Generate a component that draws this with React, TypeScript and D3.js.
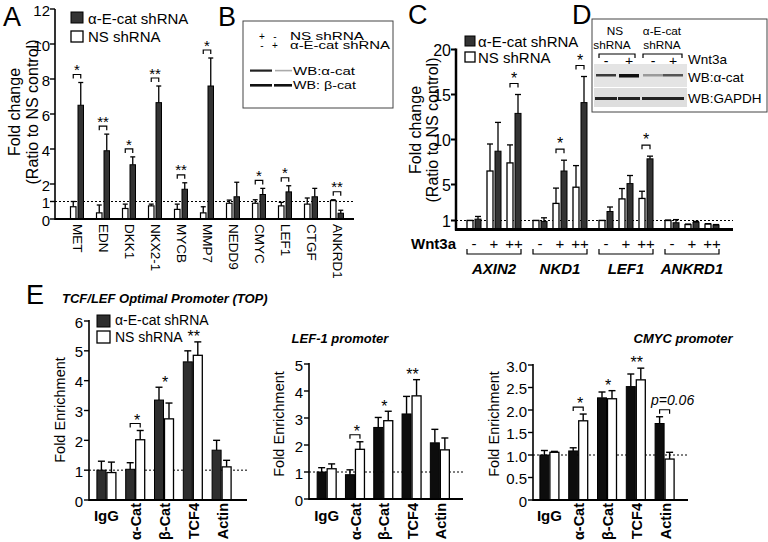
import React from "react";
import * as d3 from "d3";

const FONT = "'Liberation Sans', Arial, Helvetica, sans-serif";

// ---------- Panel A data ----------
const genesA = ["MET", "EDN", "DKK1", "NKX2-1", "MYCB", "MMP7", "NEDD9", "CMYC", "LEF1", "CTGF", "ANKRD1"];
const nsA = [0.7, 0.35, 0.6, 0.75, 0.55, 0.35, 0.9, 0.9, 0.75, 0.85, 1.05];
const nsAErr = [1.0, 0.8, 0.85, 0.85, 0.85, 0.7, 1.08, 1.1, 0.95, 1.2, 1.1];
const kdA = [6.5, 3.9, 3.1, 6.65, 1.7, 7.6, 1.27, 1.4, 1.55, 1.27, 0.33];
const kdAErr = [7.8, 4.85, 3.55, 7.6, 2.07, 9.2, 2.1, 1.75, 1.9, 1.75, 0.5];
const sigA = ["*", "**", "*", "**", "**", "*", "", "*", "*", "", "**"];
const ticksA = [0, 1, 2, 4, 6, 8, 10, 12];

// ---------- Panel C data ----------
const genesC = ["AXIN2", "NKD1", "LEF1", "ANKRD1"];
const wnt = ["-", "+", "++"];
const nsC = [[1.0, 6.5, 7.4], [1.0, 2.9, 4.7], [1.0, 3.4, 3.45], [1.0, 0.55, 0.6]];
const nsCErr = [[1.0, 9.5, 9.4], [1.0, 4.6, 7.1], [1.0, 4.55, 4.25], [1.05, 0.6, 0.65]];
const kdC = [[1.15, 8.7, 12.9], [0.9, 6.5, 14.1], [2.0, 5.1, 7.85], [0.75, 0.8, 0.5]];
const kdCErr = [[1.45, 11.9, 15.0], [1.3, 7.7, 17.0], [2.5, 6.0, 8.15], [1.1, 0.9, 0.55]];
const sigC = [["", "", "*"], ["", "*", "*"], ["", "", "*"], ["", "", ""]];
const ticksC = [1, 5, 10, 15, 20];

// ---------- Panel D data ----------
const lanesD = ["-", "+", "-", "+"];
const bandAlpha = ["#3a3a3a", "#111111", "#9a9a9a", "#555555"];
const bandGapdh = ["#222222", "#222222", "#222222", "#222222"];

// ---------- Panel E data ----------
const eCats = ["IgG", "α-Cat", "β-Cat", "TCF4", "Actin"];
const e1KD = [1.0, 1.03, 3.35, 4.63, 1.67];
const e1KDErr = [1.3, 1.25, 3.78, 5.0, 2.0];
const e1NS = [0.92, 2.02, 2.72, 4.85, 1.11];
const e1NSErr = [1.27, 2.33, 3.25, 5.3, 1.33];
const e1Ticks = [0, 1, 2, 3, 4, 5, 6];
const e1Sig = ["", "b*", "*", "**", ""];
const e2KD = [1.0, 0.9, 2.65, 3.15, 2.08];
const e2KDErr = [1.16, 1.08, 3.02, 3.8, 2.58];
const e2NS = [1.12, 1.84, 2.9, 3.82, 1.82];
const e2NSErr = [1.3, 2.12, 3.25, 4.42, 2.26];
const e2Ticks = [0, 1, 2, 3, 4, 5];
const e2Sig = ["", "b*", "*", "**", ""];
const e3KD = [1.0, 1.09, 2.27, 2.52, 1.7];
const e3KDErr = [1.1, 1.16, 2.4, 2.8, 1.85];
const e3NS = [1.06, 1.76, 2.25, 2.67, 0.91];
const e3NSErr = [1.08, 1.91, 2.43, 2.93, 1.06];
const e3Ticks = [0, 0.5, 1, 1.5, 2, 2.5, 3];
const e3Sig = ["", "b*", "*", "**", "bp=0.06"];

const KD_LABEL = "α-E-cat shRNA";
const NS_LABEL = "NS shRNA";

function Err({ x, y0, y1, cap, sw = 1.3 }: any) {
  return (
    <g stroke="#000" strokeWidth={sw}>
      <line x1={x} x2={x} y1={y0} y2={y1} />
      <line x1={x - cap / 2} x2={x + cap / 2} y1={y1} y2={y1} />
    </g>
  );
}

function Bracket({ x1, x2, y, h = 4, up = false, sw = 1.2 }: any) {
  const yy = up ? y - h : y + h;
  return <path d={`M${x1},${yy}V${y}H${x2}V${yy}`} fill="none" stroke="#000" strokeWidth={sw} />;
}

function Star({ x, yc, s, fs = 16 }: any) {
  return (
    <text x={x} y={yc + fs * 0.58} textAnchor="middle" fontSize={fs} fill="#000">
      {s}
    </text>
  );
}

function Letter({ x, y, t }: any) {
  return (
    <text x={x} y={y} fontSize={27}>
      {t}
    </text>
  );
}

function PanelA() {
  const x = d3.scaleBand<string>().domain(genesA).range([64, 350]);
  const y = d3.scaleLinear().domain([0, 12]).range([219, 9]);
  const ax = 55;
  const xEnd = 354;
  return (
    <g>
      <Letter x={3} y={26} t="A" />
      <rect x={71} y={12} width={12} height={11} fill="#333" stroke="#000" />
      <text x={88} y={18} dominantBaseline="central" fontSize={15}>{KD_LABEL}</text>
      <rect x={71} y={31} width={12} height={11} fill="#fff" stroke="#000" strokeWidth={1.3} />
      <text x={88} y={36} dominantBaseline="central" fontSize={15}>{NS_LABEL}</text>
      <text transform={`translate(14,112) rotate(-90)`} textAnchor="middle" dominantBaseline="central" fontSize={16}>Fold change</text>
      <text transform={`translate(32,112) rotate(-90)`} textAnchor="middle" dominantBaseline="central" fontSize={16}>(Ratio to NS control)</text>
      <line x1={ax} x2={xEnd} y1={y(1)} y2={y(1)} stroke="#000" strokeDasharray="2,2" strokeWidth={1} />
      {genesA.map((g, i) => {
        const c = (x(g) as number) + x.bandwidth() / 2;
        const bw = 5.5;
        const wx = c - 6.5;
        const dx = c + 1;
        const top = y(Math.max(nsAErr[i], kdAErr[i]));
        const by = top - 8;
        return (
          <g key={g}>
            <Err x={wx + bw / 2} y0={y(nsA[i])} y1={y(nsAErr[i])} cap={5} />
            <Err x={dx + bw / 2} y0={y(kdA[i])} y1={y(kdAErr[i])} cap={5} />
            <rect x={wx} y={y(nsA[i])} width={bw} height={y(0) - y(nsA[i])} fill="#fff" stroke="#000" strokeWidth={1.2} />
            <rect x={dx} y={y(kdA[i])} width={bw} height={y(0) - y(kdA[i])} fill="#333" stroke="#000" strokeWidth={1} />
            {sigA[i] && (
              <g>
                <Bracket x1={wx + bw / 2} x2={dx + bw / 2} y={by} />
                <Star x={c} yc={by - 8} s={sigA[i]} fs={15} />
              </g>
            )}
            <text transform={`translate(${c},224) rotate(90)`} dominantBaseline="central" fontSize={13.5}>{g}</text>
          </g>
        );
      })}
      <line x1={ax} x2={ax} y1={y(12)} y2={y(0) + 1} stroke="#000" strokeWidth={1.6} />
      <line x1={ax} x2={xEnd} y1={y(0)} y2={y(0)} stroke="#000" strokeWidth={2} />
      {ticksA.map((t) => (
        <g key={t}>
          <line x1={ax - 5} x2={ax} y1={y(t)} y2={y(t)} stroke="#000" strokeWidth={1.4} />
          <text x={ax - 5} y={y(t) + 1} textAnchor="end" dominantBaseline="central" fontSize={15}>{t}</text>
        </g>
      ))}
    </g>
  );
}

function PanelB() {
  return (
    <g>
      <Letter x={218} y={26} t="B" />
      <rect x={243} y={21} width={150} height={87} fill="none" stroke="#444" strokeWidth={1} />
      <g fontSize={10}>
        <text x={262} y={39.5} textAnchor="middle">+</text>
        <text x={275} y={39.5} textAnchor="middle">-</text>
        <text x={290} y={39.5} textLength={74} lengthAdjust="spacingAndGlyphs">NS shRNA</text>
        <text x={262} y={49} textAnchor="middle">-</text>
        <text x={275} y={49} textAnchor="middle">+</text>
        <text x={290} y={49} textLength={100} lengthAdjust="spacingAndGlyphs">{KD_LABEL}</text>
        <text x={293} y={75} textLength={62} lengthAdjust="spacingAndGlyphs">WB:α-cat</text>
        <text x={293} y={89} textLength={63} lengthAdjust="spacingAndGlyphs">WB: β-cat</text>
      </g>
      <rect x={250} y={69.5} width={22} height={2.2} fill="#222" />
      <rect x={275} y={69.8} width={17} height={1.6} fill="#aaa" />
      <rect x={250} y={84} width={22} height={2.6} fill="#111" />
      <rect x={274} y={84} width={18} height={2.6} fill="#111" />
    </g>
  );
}

function PanelC() {
  const x = d3.scaleBand<string>().domain(genesC).range([461, 725]);
  const xc = d3.scaleBand<string>().domain(wnt).range([3, 63]);
  const y = d3.scaleLinear().domain([0, 20]).range([229.5, 49.5]);
  const ax = 456;
  const xEnd = 733;
  return (
    <g>
      <Letter x={408} y={24} t="C" />
      <rect x={465} y={36} width={10} height={10} fill="#333" stroke="#000" />
      <text x={478} y={41} dominantBaseline="central" fontSize={15}>{KD_LABEL}</text>
      <rect x={465} y={52} width={10} height={10} fill="#fff" stroke="#000" strokeWidth={1.3} />
      <text x={478} y={57} dominantBaseline="central" fontSize={15}>{NS_LABEL}</text>
      <text transform={`translate(415,130) rotate(-90)`} textAnchor="middle" dominantBaseline="central" fontSize={16}>Fold change</text>
      <text transform={`translate(432,130) rotate(-90)`} textAnchor="middle" dominantBaseline="central" fontSize={16}>(Ratio to NS control)</text>
      <line x1={ax} x2={xEnd} y1={y(1)} y2={y(1)} stroke="#000" strokeDasharray="2,2" strokeWidth={1} />
      {genesC.map((g, gi) => {
        const g0 = x(g) as number;
        return (
          <g key={g}>
            {wnt.map((w, wi) => {
              const c = g0 + (xc(w) as number) + xc.bandwidth() / 2;
              const bw = 6;
              const wx = c - 7;
              const dx = c + 1;
              const top = y(Math.max(nsCErr[gi][wi], kdCErr[gi][wi]));
              const by = top - 11;
              return (
                <g key={w}>
                  <Err x={wx + bw / 2} y0={y(nsC[gi][wi])} y1={y(nsCErr[gi][wi])} cap={6} />
                  <Err x={dx + bw / 2} y0={y(kdC[gi][wi])} y1={y(kdCErr[gi][wi])} cap={6} />
                  <rect x={wx} y={y(nsC[gi][wi])} width={bw} height={y(0) - y(nsC[gi][wi])} fill="#fff" stroke="#000" strokeWidth={1.3} />
                  <rect x={dx} y={y(kdC[gi][wi])} width={bw} height={y(0) - y(kdC[gi][wi])} fill="#333" stroke="#000" strokeWidth={1} />
                  {sigC[gi][wi] && (
                    <g>
                      <Bracket x1={wx + bw / 2} x2={dx + bw / 2} y={by} />
                      <Star x={c} yc={by - 9} s={sigC[gi][wi]} fs={16} />
                    </g>
                  )}
                  <text x={c} y={243} textAnchor="middle" dominantBaseline="central" fontSize={15}>{w}</text>
                </g>
              );
            })}
            <Bracket x1={g0 + 6} x2={g0 + 60} y={254} h={5} up={true} sw={1.2} />
            <text x={g0 + 33} y={268} textAnchor="middle" dominantBaseline="central" fontSize={15} fontWeight="bold" fontStyle="italic">{g}</text>
          </g>
        );
      })}
      <text x={ax} y={243} textAnchor="end" dominantBaseline="central" fontSize={15} fontWeight="bold">Wnt3a</text>
      <line x1={ax} x2={ax} y1={y(20) - 1} y2={y(0) + 1} stroke="#000" strokeWidth={2.5} />
      <line x1={ax - 1} x2={xEnd} y1={y(0)} y2={y(0)} stroke="#000" strokeWidth={3} />
      {ticksC.map((t) => (
        <g key={t}>
          <line x1={ax - 5} x2={ax} y1={y(t)} y2={y(t)} stroke="#000" strokeWidth={2} />
          <text x={ax - 5} y={y(t) + 1} textAnchor="end" dominantBaseline="central" fontSize={16}>{t}</text>
        </g>
      ))}
    </g>
  );
}

function PanelD() {
  const lanes = [606, 629, 653, 673];
  return (
    <g>
      <Letter x={572} y={24} t="D" />
      <rect x={592} y={19} width={175} height={93} fill="none" stroke="#444" strokeWidth={1} />
      <g fontSize={11.8} textAnchor="middle">
        <text x={615} y={35}>NS</text>
        <text x={612} y={48.5}>shRNA</text>
        <text x={662} y={35}>α-E-cat</text>
        <text x={662} y={48.5}>shRNA</text>
      </g>
      <Bracket x1={599} x2={635} y={54} h={4} />
      <Bracket x1={643} x2={682} y={54} h={4} />
      {lanesD.map((s, i) => (
        <text key={i} x={lanes[i]} y={61} textAnchor="middle" dominantBaseline="central" fontSize={14} fill="#000">{s}</text>
      ))}
      <text x={688} y={59} dominantBaseline="central" fontSize={13.5}>Wnt3a</text>
      <rect x={594} y={64} width={93} height={23} fill="#e4e4e4" />
      <rect x={594} y={88} width={93} height={19} fill="#dedede" />
      {lanes.map((lx, i) => (
        <rect key={"a" + i} x={lx - 10} y={74} width={20} height={i === 1 ? 3.5 : 2.5} fill={bandAlpha[i]} />
      ))}
      {lanes.map((lx, i) => (
        <rect key={"g" + i} x={lx - 11} y={97} width={22} height={3} fill={bandGapdh[i]} />
      ))}
      <text x={688} y={77} dominantBaseline="central" fontSize={13.5}>WB:α-cat</text>
      <text x={688} y={98} dominantBaseline="central" fontSize={13.5}>WB:GAPDH</text>
    </g>
  );
}

function EPanel(p: any) {
  const x = d3.scaleBand<string>().domain(eCats).range(p.xr);
  const y = d3.scaleLinear().domain([0, p.max]).range([p.yBase, p.yTop]);
  const ax = p.ax;
  return (
    <g>
      <text x={p.titleX} y={p.titleY} textAnchor={p.titleAnchor} fontSize={13} fontWeight="bold" fontStyle="italic">{p.title}</text>
      <text transform={`translate(${p.ylx},${p.yly}) rotate(-90)`} textAnchor="middle" dominantBaseline="central" fontSize={14.5}>Fold Enrichment</text>
      <line x1={ax} x2={p.xEnd} y1={y(1)} y2={y(1)} stroke="#000" strokeDasharray="2,2" strokeWidth={1} />
      {eCats.map((cat, i) => {
        const c = (x(cat) as number) + x.bandwidth() / 2;
        const bw = 9;
        const dx = c - 9.5;
        const wx = c + 0.5;
        const s = p.sig[i];
        const top = y(Math.max(p.kdErr[i], p.nsErr[i]));
        return (
          <g key={cat}>
            <Err x={dx + bw / 2} y0={y(p.kd[i])} y1={y(p.kdErr[i])} cap={7} sw={1.4} />
            <Err x={wx + bw / 2} y0={y(p.ns[i])} y1={y(p.nsErr[i])} cap={7} sw={1.4} />
            <rect x={dx} y={y(p.kd[i])} width={bw} height={y(0) - y(p.kd[i])} fill={p.kdColor} stroke="#000" strokeWidth={1} />
            <rect x={wx} y={y(p.ns[i])} width={bw} height={y(0) - y(p.ns[i])} fill="#fff" stroke="#000" strokeWidth={1.3} />
            {s && s[0] === "b" && (
              <g>
                <Bracket x1={c - 5} x2={c + 5} y={top - 7} h={4} />
                {s.slice(1).startsWith("p") ? (
                  <text x={c + 8} y={top - 17} textAnchor="middle" dominantBaseline="central" fontSize={14} fontStyle="italic">{s.slice(1)}</text>
                ) : (
                  <Star x={c + 2} yc={top - 14} s={s.slice(1)} fs={16} />
                )}
              </g>
            )}
            {s && s[0] !== "b" && <Star x={c + 1} yc={top - 9} s={s} fs={16} />}
            {i === 0 ? (
              <text x={c} y={521} textAnchor="middle" fontSize={15} fontWeight="bold">{cat}</text>
            ) : (
              <text transform={`translate(${c + 1},503) rotate(-90)`} textAnchor="end" dominantBaseline="central" fontSize={14.5} fontWeight="bold">{cat}</text>
            )}
          </g>
        );
      })}
      <line x1={ax} x2={ax} y1={y(p.max) - 1} y2={y(0) + 1} stroke="#000" strokeWidth={1.6} />
      <line x1={ax} x2={p.xEnd} y1={y(0)} y2={y(0)} stroke="#000" strokeWidth={1.8} />
      {p.ticks.map((t: number) => (
        <g key={t}>
          <line x1={ax - 5} x2={ax} y1={y(t)} y2={y(t)} stroke="#000" strokeWidth={1.4} />
          <text x={ax - 6} y={y(t) + 1} textAnchor="end" dominantBaseline="central" fontSize={15}>{p.fmt(t)}</text>
        </g>
      ))}
    </g>
  );
}

function PanelE() {
  return (
    <g>
      <Letter x={26} y={304} t="E" />
      <rect x={97} y={315} width={13} height={12} fill="#2e2e2e" stroke="#000" />
      <text x={115} y={320} dominantBaseline="central" fontSize={14}>{KD_LABEL}</text>
      <rect x={97} y={331} width={13} height={12} fill="#fff" stroke="#000" strokeWidth={1.3} />
      <text x={115} y={337} dominantBaseline="central" fontSize={14}>{NS_LABEL}</text>
      <EPanel title="TCF/LEF Optimal Promoter (TOP)" titleX={62} titleY={303} titleAnchor="start"
        xr={[92, 236]} ax={89} xEnd={247} yBase={500} yTop={321} max={6} ticks={e1Ticks} fmt={(t: number) => String(t)}
        kd={e1KD} kdErr={e1KDErr} ns={e1NS} nsErr={e1NSErr} sig={e1Sig} kdColor="#2e2e2e" ylx={60} yly={410} />
      <EPanel title="LEF-1 promoter" titleX={340} titleY={343} titleAnchor="middle"
        xr={[312.5, 454]} ax={309} xEnd={463} yBase={499} yTop={364} max={5} ticks={e2Ticks} fmt={(t: number) => String(t)}
        kd={e2KD} kdErr={e2KDErr} ns={e2NS} nsErr={e2NSErr} sig={e2Sig} kdColor="#0d0d0d" ylx={279} yly={424} />
      <EPanel title="CMYC promoter" titleX={683} titleY={343} titleAnchor="middle"
        xr={[535, 679]} ax={533} xEnd={688} yBase={500} yTop={365} max={3} ticks={e3Ticks} fmt={(t: number) => (t === 0 ? "0" : t.toFixed(1))}
        kd={e3KD} kdErr={e3KDErr} ns={e3NS} nsErr={e3NSErr} sig={e3Sig} kdColor="#0d0d0d" ylx={494} yly={424} />
    </g>
  );
}

export default function App() {
  return (
    <svg width={768} height={542} style={{ position: "absolute", left: 0, top: 0, display: "block" }} fontFamily={FONT}>
      <rect x={0} y={0} width={768} height={542} fill="#fff" />
      <PanelA />
      <PanelB />
      <PanelC />
      <PanelD />
      <PanelE />
    </svg>
  );
}
